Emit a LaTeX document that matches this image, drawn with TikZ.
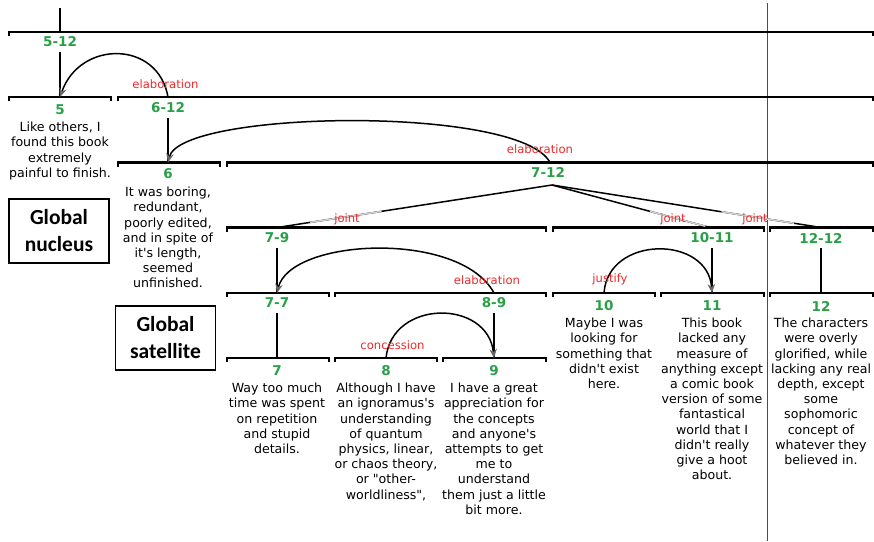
\documentclass[tikz,border=0pt]{standalone}
\usepackage{fontspec}
\setmainfont{DejaVu Sans}[Ligatures=TeXOff]
\newfontfamily\boxfont{Carlito}
\usetikzlibrary{arrows.meta,calc}
\definecolor{segg}{RGB}{40,160,70}
\definecolor{relr}{RGB}{240,40,40}
\newcommand\segbar[3]{\draw[bar] (#1,#3+4) -- (#1,#3) -- (#2,#3) -- (#2,#3+4);}
\begin{document}
\begin{tikzpicture}[x=1pt,y=-1pt,
  bar/.style={line width=2.6pt, line join=miter},
  seg/.style={font=\fontsize{13.5}{15}\selectfont\bfseries, text=segg, inner sep=1pt},
  rel/.style={font=\fontsize{11.6}{13}\selectfont, text=relr, inner sep=1pt},
  body/.style={font=\fontsize{12.6}{15.2}\selectfont, align=center, anchor=north, inner sep=0pt},
  span/.style={line width=1.5pt},
  arc/.style={line width=1.5pt, -{Stealth[length=9pt,width=7.5pt,inset=3pt,color=black!60]}},
  gbox/.style={draw, line width=1.1pt, minimum width=100pt, minimum height=64pt, font=\boxfont\fontsize{21.5}{27}\selectfont\bfseries, align=center}]
\useasboundingbox (0,0) rectangle (874,541);
% divider
\draw[black!70, line width=0.8pt] (767,3) -- (767,541);
% bars
\segbar{9}{873}{32}
\segbar{9}{111}{97}
\segbar{118}{873}{97}
\segbar{118}{220}{162.5}
\segbar{227}{873}{162.5}
\segbar{227}{546}{227.5}
\segbar{553}{764}{227.5}
\segbar{770}{873}{227.5}
\segbar{227}{329}{293}
\segbar{335}{546}{293}
\segbar{553}{655}{293}
\segbar{661}{764}{293}
\segbar{770}{873}{293}
\segbar{227}{329}{358}
\segbar{335}{437}{358}
\segbar{443}{546}{358}
% coordinates and span labels
\coordinate (c0) at (60,8);
\coordinate (b512) at (60,32);
\node[seg] (s512) at (60,42) {5-12};
\coordinate (b5) at (60,97);
\node[seg] (s5) at (60,110) {5};
\coordinate (b612) at (168,97);
\node[seg] (s612) at (168,108) {6-12};
\coordinate (b6) at (168,162.5);
\node[seg] (s6) at (168,174) {6};
\coordinate (b712) at (550,162.5);
\node[seg] (s712) at (548,172) {7-12};
\coordinate (j) at (552,185);
\coordinate (b79) at (277,227.5);
\node[seg] (s79) at (277,238) {7-9};
\coordinate (b1011) at (710,227.5);
\node[seg] (s1011) at (712,238) {10-11};
\coordinate (b1212) at (821,227.5);
\node[seg] (s1212) at (821,238) {12-12};
\coordinate (b77) at (277,293);
\node[seg] (s77) at (277,303) {7-7};
\coordinate (b89) at (494,293);
\node[seg] (s89) at (494,303) {8-9};
\coordinate (b10) at (604,293);
\node[seg] (s10) at (604,306) {10};
\coordinate (b11) at (712,293);
\node[seg] (s11) at (712,306) {11};
\coordinate (b12) at (821,293);
\node[seg] (s12) at (821,306) {12};
\coordinate (b7) at (277,358);
\node[seg] (s7) at (277,371) {7};
\coordinate (b8) at (386,358);
\node[seg] (s8) at (386,371) {8};
\coordinate (b9) at (494,358);
\node[seg] (s9) at (494,371) {9};
% vertical spans
\draw[span] (c0) -- (b512);
\draw[span, shorten <=4pt] (s512.south) -- (b5);
\draw[span, shorten <=4pt] (s612.south) -- (b6);
\draw[span, shorten <=4pt] (s79.south) -- (b77);
\draw[span, shorten <=4pt] (s1011.south) -- (b11);
\draw[span, shorten <=4pt] (s1212.south) -- (b12);
\draw[span, shorten <=4pt] (s77.south) -- (b7);
\draw[span, shorten <=4pt] (s89.south) -- (b9);
% joint lines
\draw[span] (j) -- (b79);
\draw[span] (j) -- (b1011);
\draw[span] (j) -- (b1212);
\draw[span, gray!35] ($(j)!0.62!(b79)$) -- ($(j)!0.88!(b79)$);
\draw[span, gray!35] ($(j)!0.62!(b1011)$) -- ($(j)!0.97!(b1011)$);
\draw[span, gray!35] ($(j)!0.63!(b1212)$) -- ($(j)!0.9!(b1212)$);
% relation arcs
\draw[arc] (b612) .. controls (158,40) and (80,40) .. (b5);
\draw[arc] (b712) .. controls (520,105) and (180,110) .. (b6);
\draw[arc] (b89) .. controls (460,230) and (290,238) .. (b77);
\draw[arc] (b10) .. controls (608,235) and (708,235) .. (b11);
\draw[arc] (b8) .. controls (392,299) and (488,299) .. (b9);
% relation labels
\node[rel] (r1) at (165.5,84) {elaboration};
\node[rel] (r2) at (540,149) {elaboration};
\node[rel] (r3) at (347,219.5) {joint};
\node[rel] (r4) at (673,219) {joint};
\node[rel] (r5) at (755,219) {joint};
\node[rel] (r6) at (487,280) {elaboration};
\node[rel] (r7) at (610,279) {justify};
\node[rel] (r8) at (392.5,345) {concession};
% texts
\node[body] (t5) at (60,122) {Like others, I\\found this book\\extremely\\painful to finish.};
\node[body] (t6) at (168,187) {It was boring,\\redundant,\\poorly edited,\\and in spite of\\it's length,\\seemed\\unfinished.};
\node[body] (t7) at (277,383) {Way too much\\time was spent\\on repetition\\and stupid\\details.};
\node[body] (t8) at (386,383) {Although I have\\an ignoramus's\\understanding\\of quantum\\physics, linear,\\or chaos theory,\\or "other-\\worldliness",};
\node[body] (t9) at (494,383) {I have a great\\appreciation for\\the concepts\\and anyone's\\attempts to get\\me to\\understand\\them just a little\\bit more.};
\node[body] (t10) at (604,318) {Maybe I was\\looking for\\something that\\didn't exist\\here.};
\node[body] (t11) at (712,318) {This book\\lacked any\\measure of\\anything except\\a comic book\\version of some\\fantastical\\world that I\\didn't really\\give a hoot\\about.};
\node[body] (t12) at (821,318) {The characters\\were overly\\glorified, while\\lacking any real\\depth, except\\some\\sophomoric\\concept of\\whatever they\\believed in.};
% boxes
\node[gbox] (gn) at (59,231) {Global\\nucleus};
\node[gbox] (gs) at (165.5,338) {Global\\satellite};
\end{tikzpicture}
\end{document}
